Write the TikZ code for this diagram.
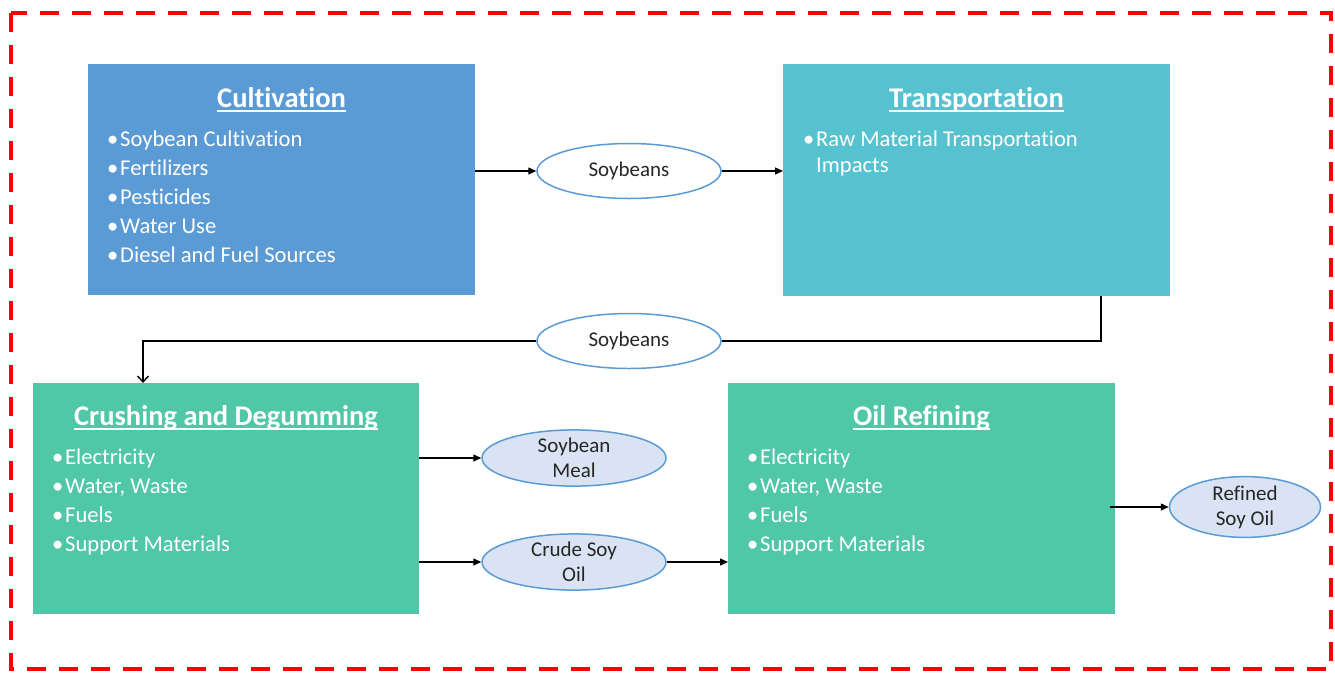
\documentclass[tikz,border=0pt]{standalone}
\usepackage{fontspec}
\setmainfont{Carlito}[Ligatures=NoCommon]
\usetikzlibrary{arrows.meta,shapes.geometric}
\definecolor{cultblue}{RGB}{91,155,213}
\definecolor{transteal}{RGB}{86,193,207}
\definecolor{procgreen}{RGB}{80,199,167}
\definecolor{ellfill}{RGB}{218,227,243}
\definecolor{ellline}{RGB}{91,155,213}
\definecolor{framered}{RGB}{255,0,0}
\tikzset{
  stagebox/.style={draw=none,inner sep=0pt,anchor=north west},
  ttl/.style={text=white,font=\fontsize{28.5}{30}\selectfont\bfseries,inner sep=0pt,anchor=base},
  bul/.style={text=white,font=\fontsize{22.6}{26}\selectfont,inner sep=0pt,anchor=base west},
  flow/.style={draw=ellline,line width=1.5pt,ellipse,inner sep=0pt,minimum width=184pt,minimum height=55pt,font=\fontsize{21}{25}\selectfont,align=center,text=black!85},
  product/.style={flow,fill=ellfill},
  conn/.style={draw=black,line width=1.4pt,-{Triangle[length=8pt,width=7pt]}},
  openconn/.style={draw=black,line width=1.4pt,-{Straight Barb[length=6pt,width=11pt,line width=1.4pt]}},
}
\newcommand\bt[1]{\makebox[14pt][l]{\hspace{1pt}•}#1}
\begin{document}
\begin{tikzpicture}[x=1pt,y=-1pt]
\useasboundingbox (0,0) rectangle (1335,673);
% frame
\draw[framered,line width=3.5pt,dash pattern=on 19pt off 13pt] (11,13) rectangle (1331,669);
% boxes
\fill[cultblue] (88,64) rectangle (475,295);
\node[stagebox,minimum width=387pt,minimum height=231pt] (cult) at (88,64) {};
\fill[transteal] (783,64) rectangle (1170,296);
\node[stagebox,minimum width=387pt,minimum height=232pt] (trans) at (783,64) {};
\fill[procgreen] (33,383) rectangle (419,614);
\node[stagebox,minimum width=386pt,minimum height=231pt] (crush) at (33,383) {};
\fill[procgreen] (728,383) rectangle (1115,614);
\node[stagebox,minimum width=387pt,minimum height=231pt] (refine) at (728,383) {};
% titles
\node[ttl] (t1) at (281.5,107) {Cultivation};
\node[ttl] (t2) at (976.5,107) {Transportation};
\node[ttl] (t3) at (226,425) {Crushing and Degumming};
\node[ttl] (t4) at (921.5,425) {Oil Refining};
\foreach \t in {t1,t2,t3,t4}{
  \draw[white,line width=1.6pt] ([yshift=-4pt]\t.base west) -- ([yshift=-4pt]\t.base east);
}
% bullets
\node[bul] (c1) at (106,146) {\bt{Soybean Cultivation}};
\node[bul] (c2) at (106,175) {\bt{Fertilizers}};
\node[bul] (c3) at (106,204) {\bt{Pesticides}};
\node[bul] (c4) at (106,233) {\bt{Water Use}};
\node[bul] (c5) at (106,262) {\bt{Diesel and Fuel Sources}};
\node[bul] (r1) at (802,146) {\bt{Raw Material Transportation}};
\node[bul] (r2) at (816,172) {Impacts};
\node[bul] (d1) at (51,464) {\bt{Electricity}};
\node[bul] (d2) at (51,493) {\bt{Water, Waste}};
\node[bul] (d3) at (51,522) {\bt{Fuels}};
\node[bul] (d4) at (51,551) {\bt{Support Materials}};
\node[bul] (o1) at (746,464) {\bt{Electricity}};
\node[bul] (o2) at (746,493) {\bt{Water, Waste}};
\node[bul] (o3) at (746,522) {\bt{Fuels}};
\node[bul] (o4) at (746,551) {\bt{Support Materials}};
% ellipses
\node[flow] (soy1) at (629,171) {Soybeans};
\node[flow] (soy2) at (629,341) {Soybeans};
\node[product] (meal) at (574,458) {Soybean\\Meal};
\node[product] (crude) at (574,562) {Crude Soy\\Oil};
\node[product,minimum width=151pt] (refined) at (1245,507) {Refined\\Soy Oil};
% connectors
\draw[conn] (cult.east |- soy1) -- (soy1.west);
\draw[conn] (soy1.east) -- (soy1.east -| trans.west);
\coordinate (tb) at (1101,296);
\coordinate (cd) at (143,383);
\draw[line width=1.4pt] (tb) |- (soy2.east);
\draw[openconn] (soy2.west) -| (cd);
\draw[conn] (crush.east |- meal) -- (meal.west);
\draw[conn] (crush.east |- crude) -- (crude.west);
\draw[conn] (crude.east) -- (crude.east -| refine.west);
\coordinate (rs) at (1110,507);
\draw[conn] (rs) -- (refined.west);
\end{tikzpicture}
\end{document}
